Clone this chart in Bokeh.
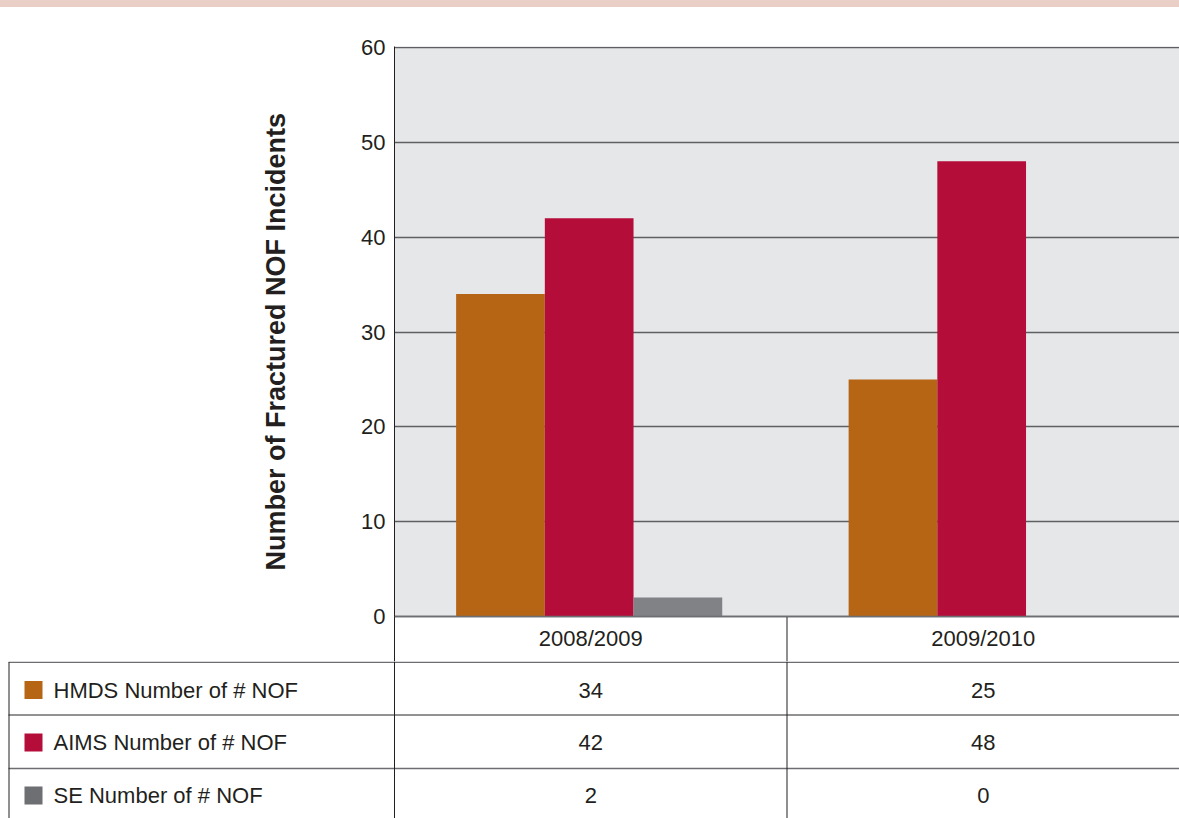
from bokeh.plotting import figure
from bokeh.layouts import column
from bokeh.models import (ColumnDataSource, FactorRange, Range1d, FixedTicker, Span,
                          BoxAnnotation, Title, Div)
from bokeh.transform import dodge
from bokeh.core.properties import value
from bokeh.embed import file_html
from bokeh.resources import INLINE

# ---------------- data ----------------
years = ["2008/2009", "2009/2010"]
series_names = ["HMDS Number of # NOF", "AIMS Number of # NOF", "SE Number of # NOF"]
hmds = [34, 25]
aims = [42, 48]
se = [2, 0]
y_ticks = [0, 10, 20, 30, 40, 50, 60]
y_label = "Number of Fractured NOF Incidents"

# ---------------- style ----------------
bar_colors = ["#b66515", "#b50d39", "#808285"]
swatch_colors = ["#b66515", "#b50d39", "#6e6f73"]
FONT = "Liberation Sans"
TXT = "#231f20"
GRID = "#5e5f62"
BG = "#e6e7e9"
BAND = "#e9cfc5"

W = 1179
BAND_H = 7
FRAME_L = 394
FRAME_T = 46
Y60 = 47
Y0 = 616
HEADER_B = 661
PAGE_H = 818

k = (Y0 - Y60) / 60.0
y_start = -(HEADER_B - Y0) / k
y_end = 60 + (Y60 - FRAME_T) / k

# ---------------- top band ----------------
band = Div(text="", width=W, height=BAND_H,
           styles={"background-color": BAND, "width": f"{W}px", "height": f"{BAND_H}px",
                   "margin": "0", "padding": "0"})

# ---------------- chart ----------------
src = ColumnDataSource(dict(year=years, hmds=hmds, aims=aims, se=se,
                            hy=[-(637.5 - Y0) / k] * len(years)))

H_CHART = HEADER_B - BAND_H
p = figure(width=W, height=H_CHART,
           x_range=FactorRange(*years, range_padding=0),
           y_range=Range1d(y_start, y_end),
           output_backend="svg", toolbar_location=None,
           x_axis_location=None,
           min_border_left=FRAME_L, min_border_right=0,
           min_border_top=FRAME_T - BAND_H, min_border_bottom=0)
p.frame_align = False
p.background_fill_color = "white"
p.border_fill_color = "white"
p.outline_line_color = None

p.add_layout(BoxAnnotation(bottom=0, top=60, fill_color=BG, fill_alpha=1,
                           line_color=None, level="image"))

p.xgrid.grid_line_color = None
p.ygrid.ticker = FixedTicker(ticks=y_ticks)
p.ygrid.grid_line_color = GRID
p.ygrid.grid_line_width = 1.5

ax = p.yaxis[0]
ax.ticker = FixedTicker(ticks=y_ticks)
ax.axis_line_color = TXT
ax.axis_line_width = 1
ax.major_tick_line_color = None
ax.minor_tick_line_color = None
ax.major_label_standoff = 3
ax.major_label_text_font = FONT
ax.major_label_text_font_size = "22px"
ax.major_label_text_color = TXT

ytitle = Title(text=y_label, align="left", offset=91, standoff=136,
               text_font=FONT, text_font_size="27px", text_font_style="bold",
               text_color=TXT)
p.add_layout(ytitle, "left")

offsets = [-0.23, -0.004, 0.222]
fields = ["hmds", "aims", "se"]
for f, off, c in zip(fields, offsets, bar_colors):
    p.vbar(x=dodge("year", off, range=p.x_range), top=f, width=0.226,
           source=src, fill_color=c, line_color=None)

p.add_layout(Span(location=0, dimension="width", line_color="#6d6e71",
                  line_width=1.5, level="overlay"))

# header row (category labels of the data table)
sep_src = ColumnDataSource(dict(year=years[:-1], y0=[y_start] * (len(years) - 1),
                                y1=[0] * (len(years) - 1)))
p.segment(x0=dodge("year", 0.5, range=p.x_range), x1=dodge("year", 0.5, range=p.x_range),
          y0="y0", y1="y1", source=sep_src, line_color=TXT, line_width=1)
p.text(x="year", y="hy", text="year", source=src,
       text_align="center", text_baseline="middle",
       text_font=value(FONT), text_font_size="22px", text_color=TXT)

# ---------------- table ----------------
CAT_W = (W - FRAME_L) / len(years)
H_TABLE = PAGE_H - HEADER_B


def u(page_x):
    return (page_x - FRAME_L) / CAT_W


def ty(page_y):
    return page_y - HEADER_B


t = figure(width=W, height=H_TABLE,
           x_range=Range1d(u(0), u(W)),
           y_range=Range1d(H_TABLE, 0),
           output_backend="svg", toolbar_location=None,
           x_axis_location=None, y_axis_location=None,
           min_border_left=0, min_border_right=0,
           min_border_top=0, min_border_bottom=0)
t.frame_align = False
t.outline_line_color = None
t.background_fill_color = "white"
t.border_fill_color = "white"
t.grid.visible = False

row_lines = [661.75, 714.5, 768]
t.segment(x0=[u(8)] * 3, x1=[u(W)] * 3,
          y0=[ty(v) for v in row_lines], y1=[ty(v) for v in row_lines],
          line_color="#6d6e71", line_width=1.5)
t.segment(x0=[0, 1], x1=[0, 1], y0=[0, 0], y1=[H_TABLE, H_TABLE],
          line_color=TXT, line_width=1)
t.segment(x0=[u(8.5)], x1=[u(8.5)], y0=[0.75], y1=[H_TABLE],
          line_color=TXT, line_width=1)

centers = [i + 0.5 for i in range(len(years))]
row_y = [689.5, 742, 795]
series_vals = [hmds, aims, se]
for name, vals, c, ry in zip(series_names, series_vals, swatch_colors, row_y):
    t.rect(x=[u(33)], y=[ty(ry)], width=18, height=18,
           width_units="screen", height_units="screen",
           fill_color=c, line_color=None)
    t.text(x=[u(53)], y=[ty(ry)], text=[name],
           text_align="left", text_baseline="middle",
           text_font=value(FONT), text_font_size="22px", text_color=TXT)
    t.text(x=centers, y=[ty(ry)] * len(vals), text=[str(v) for v in vals],
           text_align="center", text_baseline="middle",
           text_font=value(FONT), text_font_size="22px", text_color=TXT)

layout = column(band, p, t, spacing=0)
open("out.html", "w").write(file_html(layout, INLINE))
